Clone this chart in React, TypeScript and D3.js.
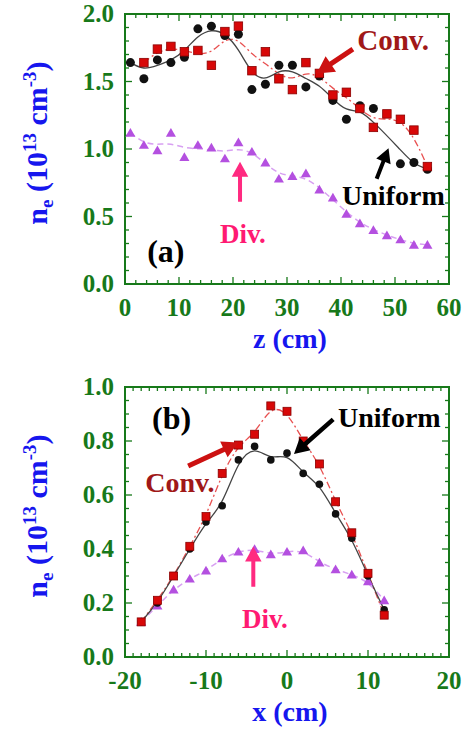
import React from "react";
import * as d3 from "d3";

const W = 470;
const H = 730;
const FONT = "'Liberation Serif', 'Times New Roman', serif";
const GREEN = "#17791a";
const BLUE = "#1616ee";

// ---- panel (a): n_e versus z ----
const uniformZ = [1, 3.5, 6, 8.5, 11, 13.5, 16, 18.5, 21, 23.5, 26, 28.5, 31, 33.5, 36, 38.5, 41, 43.5, 46, 51, 53.5, 56];
const uniformA = [1.64, 1.52, 1.66, 1.64, 1.68, 1.89, 1.91, 1.84, 1.85, 1.44, 1.48, 1.62, 1.62, 1.46, 1.54, 1.36, 1.22, 1.32, 1.30, 0.89, 0.90, 0.85];
const convZ = [3.5, 6, 8.5, 11, 13.5, 16, 18.5, 21, 23.5, 26, 28.5, 31, 33.5, 36, 38.5, 41, 43.5, 46, 48.5, 51, 53.5, 56];
const convA = [1.64, 1.74, 1.76, 1.72, 1.73, 1.62, 1.87, 1.91, 1.58, 1.72, 1.52, 1.44, 1.64, 1.56, 1.40, 1.42, 1.30, 1.16, 1.26, 1.22, 1.14, 0.87];
const divZ = [1, 3.5, 6, 8.5, 11, 13.5, 16, 18.5, 21, 23.5, 26, 28.5, 31, 33.5, 36, 38.5, 41, 43.5, 46, 48.5, 51, 53.5, 56];
const divA = [1.12, 1.03, 0.99, 1.12, 0.94, 1.03, 1.01, 0.93, 1.05, 0.98, 0.90, 0.78, 0.80, 0.82, 0.70, 0.64, 0.52, 0.45, 0.40, 0.36, 0.33, 0.29, 0.29];
const zTicks = ["0", "10", "20", "30", "40", "50", "60"];
const neTicksA = ["0.0", "0.5", "1.0", "1.5", "2.0"];

// ---- panel (b): n_e versus x ----
const xPos = [-18, -16, -14, -12, -10, -8, -6, -4, -2, 0, 2, 4, 6, 8, 10, 12];
const uniformB = [0.13, 0.2, 0.3, 0.4, 0.5, 0.56, 0.73, 0.78, 0.73, 0.755, 0.68, 0.64, 0.53, 0.44, 0.3, 0.175];
const convB = [0.13, 0.21, 0.3, 0.41, 0.52, 0.68, 0.785, 0.825, 0.93, 0.91, 0.8, 0.715, 0.575, 0.46, 0.31, 0.155];
const divB = [0.13, 0.19, 0.25, 0.29, 0.32, 0.365, 0.39, 0.4, 0.38, 0.39, 0.395, 0.35, 0.325, 0.305, 0.28, 0.21];
const xTicks = ["-20", "-10", "0", "10", "20"];
const neTicksB = ["0.0", "0.2", "0.4", "0.6", "0.8", "1.0"];

type Note =
  | { kind: "text"; x: number; y: number; text: string; color: string; size: number }
  | { kind: "arrow"; x1: number; y1: number; x2: number; y2: number; color: string; shaft: number; head: number };

interface PanelProps {
  box: { left: number; right: number; top: number; bottom: number };
  xDomain: [number, number];
  yDomain: [number, number];
  xLabels: string[];
  yLabels: string[];
  xMinor: number;
  yMinor: number;
  xTitle: string;
  dot: number;
  sq: number;
  smooth: boolean;
  uniform: [number[], number[]];
  conv: [number[], number[]];
  div: [number[], number[]];
  notes: Note[];
}

function arrowPath(x1: number, y1: number, x2: number, y2: number, shaft: number, head: number) {
  const len = Math.hypot(x2 - x1, y2 - y1);
  const ux = (x2 - x1) / len, uy = (y2 - y1) / len;
  const nx = -uy, ny = ux;
  const bx = x2 - ux * head, by = y2 - uy * head;
  const hw = head * 0.55;
  const pts = [
    [x1 + nx * shaft / 2, y1 + ny * shaft / 2],
    [bx + nx * shaft / 2, by + ny * shaft / 2],
    [bx + nx * hw, by + ny * hw],
    [x2, y2],
    [bx - nx * hw, by - ny * hw],
    [bx - nx * shaft / 2, by - ny * shaft / 2],
    [x1 - nx * shaft / 2, y1 - ny * shaft / 2],
  ];
  return "M" + pts.map((p) => p.join(",")).join("L") + "Z";
}

// light 1-2-1 smoothing, the fitted curves in (a) do not pass through every point
function smooth121(ys: number[]) {
  return ys.map((v, i) => (i === 0 || i === ys.length - 1 ? v : (ys[i - 1] + 2 * v + ys[i + 1]) / 4));
}

function Panel(p: PanelProps) {
  const { left, right, top, bottom } = p.box;
  const x = d3.scaleLinear().domain(p.xDomain).range([left, right]);
  const y = d3.scaleLinear().domain(p.yDomain).range([bottom, top]);
  const xMaj = p.xLabels.map(Number);
  const yMaj = p.yLabels.map(Number);
  const xMin = d3.range(p.xDomain[0], p.xDomain[1] + 1e-6, p.xMinor);
  const yMin = d3.range(p.yDomain[0], p.yDomain[1] + 1e-6, p.yMinor);

  const curve = (xs: number[], ys: number[]) => {
    const fit = p.smooth ? smooth121(ys) : ys;
    return d3.line<number>().x((_, i) => x(xs[i])).y((d) => y(d)).curve(d3.curveBasis)(fit) || "";
  };

  const tri = d3.symbol().type(d3.symbolTriangle).size(44)() || "";
  const cx = (left + right) / 2;
  const cy = (top + bottom) / 2;

  return (
    <g>
      {/* ticks, inward on four sides */}
      <g stroke={GREEN} strokeWidth={1.3}>
        {xMin.map((v) => {
          const L = xMaj.some((m) => Math.abs(m - v) < 1e-6) ? 7 : 4;
          return (
            <g key={"x" + v}>
              <line x1={x(v)} x2={x(v)} y1={bottom} y2={bottom - L} />
              <line x1={x(v)} x2={x(v)} y1={top} y2={top + L} />
            </g>
          );
        })}
        {yMin.map((v) => {
          const L = yMaj.some((m) => Math.abs(m - v) < 1e-6) ? 7 : 4;
          return (
            <g key={"y" + v}>
              <line x1={left} x2={left + L} y1={y(v)} y2={y(v)} />
              <line x1={right} x2={right - L} y1={y(v)} y2={y(v)} />
            </g>
          );
        })}
      </g>
      <rect x={left} y={top} width={right - left} height={bottom - top} fill="none" stroke={GREEN} strokeWidth={2} />

      {/* tick labels */}
      <g fill={GREEN} fontWeight="bold" fontSize={25}>
        {p.xLabels.map((t) => (
          <text key={t} x={x(+t)} y={bottom + 32} textAnchor="middle">{t}</text>
        ))}
        {p.yLabels.map((t) => (
          <text key={t} x={left - 11} y={y(+t) + 8} textAnchor="end">{t}</text>
        ))}
      </g>

      {/* axis titles */}
      <text x={cx + 3} y={bottom + 64} textAnchor="middle" fill={BLUE} fontWeight="bold" fontSize={28}>{p.xTitle}</text>
      <text transform={`translate(47,${cy - 6}) rotate(-90)`} textAnchor="middle" fill={BLUE} fontWeight="bold" fontSize={30}>
        n<tspan fontSize={19} dy={6}>e</tspan>
        <tspan dy={-6}> (10</tspan>
        <tspan fontSize={19} dy={-11}>13</tspan>
        <tspan dy={11}> cm</tspan>
        <tspan fontSize={19} dy={-11}>-3</tspan>
        <tspan dy={11}>)</tspan>
      </text>

      {/* fitted curves */}
      <path d={curve(p.div[0], p.div[1])} fill="none" stroke="#d8a0f2" strokeWidth={1.5} strokeDasharray="6,4" />
      <path d={curve(p.conv[0], p.conv[1])} fill="none" stroke="#e85050" strokeWidth={1.3} strokeDasharray="7,3,2,3" />
      <path d={curve(p.uniform[0], p.uniform[1])} fill="none" stroke="#444" strokeWidth={1.3} />

      {/* markers */}
      {p.div[1].map((v, i) => (
        <path key={"d" + i} d={tri} transform={`translate(${x(p.div[0][i])},${y(v) + 1})`} fill="#b450e0" />
      ))}
      {p.uniform[1].map((v, i) => (
        <circle key={"u" + i} cx={x(p.uniform[0][i])} cy={y(v)} r={p.dot} fill="#111" />
      ))}
      {p.conv[1].map((v, i) => (
        <rect key={"c" + i} x={x(p.conv[0][i]) - p.sq / 2} y={y(v) - p.sq / 2} width={p.sq} height={p.sq}
          fill="#d80808" stroke="#8a0000" strokeWidth={0.8} />
      ))}

      {/* annotations */}
      {p.notes.map((n, i) =>
        n.kind === "text" ? (
          <text key={i} x={x(n.x)} y={y(n.y)} fill={n.color} fontWeight="bold" fontSize={n.size}>{n.text}</text>
        ) : (
          <path key={i} d={arrowPath(x(n.x1), y(n.y1), x(n.x2), y(n.y2), n.shaft, n.head)} fill={n.color} />
        )
      )}
    </g>
  );
}

const CONV_TXT = "#a01818";
const DIV_TXT = "#ff1a72";

const panelA: PanelProps = {
  box: { left: 125, right: 449, top: 14, bottom: 284 },
  xDomain: [0, 60],
  yDomain: [0, 2],
  xLabels: zTicks,
  yLabels: neTicksA,
  xMinor: 2,
  yMinor: 0.1,
  xTitle: "z (cm)",
  dot: 4.5,
  sq: 8.5,
  smooth: true,
  uniform: [uniformZ, uniformA],
  conv: [convZ, convA],
  div: [divZ, divA],
  notes: [
    { kind: "text", x: 43, y: 1.733, text: "Conv.", color: CONV_TXT, size: 29 },
    { kind: "arrow", x1: 42.2, y1: 1.74, x2: 35.5, y2: 1.56, color: "#cc1111", shaft: 5, head: 17 },
    { kind: "text", x: 40.2, y: 0.585, text: "Uniform", color: "#000", size: 28 },
    { kind: "arrow", x1: 46.6, y1: 0.78, x2: 48.8, y2: 1.005, color: "#000", shaft: 4, head: 14 },
    { kind: "text", x: 17.6, y: 0.304, text: "Div.", color: DIV_TXT, size: 27 },
    { kind: "arrow", x1: 21.3, y1: 0.61, x2: 21.3, y2: 0.906, color: "#ff2a80", shaft: 4, head: 15 },
    { kind: "text", x: 4.1, y: 0.163, text: "(a)", color: "#000", size: 32 },
  ],
};

const panelB: PanelProps = {
  box: { left: 125, right: 449, top: 387, bottom: 657 },
  xDomain: [-20, 20],
  yDomain: [0, 1],
  xLabels: xTicks,
  yLabels: neTicksB,
  xMinor: 1,
  yMinor: 0.05,
  xTitle: "x (cm)",
  dot: 3.8,
  sq: 8,
  smooth: false,
  uniform: [xPos, uniformB],
  conv: [xPos, convB],
  div: [xPos, divB],
  notes: [
    { kind: "text", x: -16.67, y: 0.844, text: "(b)", color: "#000", size: 32 },
    { kind: "text", x: -17.5, y: 0.611, text: "Conv.", color: CONV_TXT, size: 28 },
    { kind: "arrow", x1: -12.2, y1: 0.707, x2: -6.0, y2: 0.794, color: "#cc1111", shaft: 5, head: 16 },
    { kind: "text", x: 6.3, y: 0.852, text: "Uniform", color: "#000", size: 28 },
    { kind: "arrow", x1: 5.7, y1: 0.88, x2: 0.86, y2: 0.752, color: "#000", shaft: 4.5, head: 15 },
    { kind: "text", x: -5.56, y: 0.107, text: "Div.", color: DIV_TXT, size: 27 },
    { kind: "arrow", x1: -4.16, y1: 0.26, x2: -4.16, y2: 0.409, color: "#ff2a80", shaft: 4, head: 15 },
  ],
};

export default function App() {
  return (
    <svg width={W} height={H} fontFamily={FONT} style={{ position: "absolute", left: 0, top: 0 }}>
      <rect width={W} height={H} fill="#fff" />
      <Panel {...panelA} />
      <Panel {...panelB} />
    </svg>
  );
}
